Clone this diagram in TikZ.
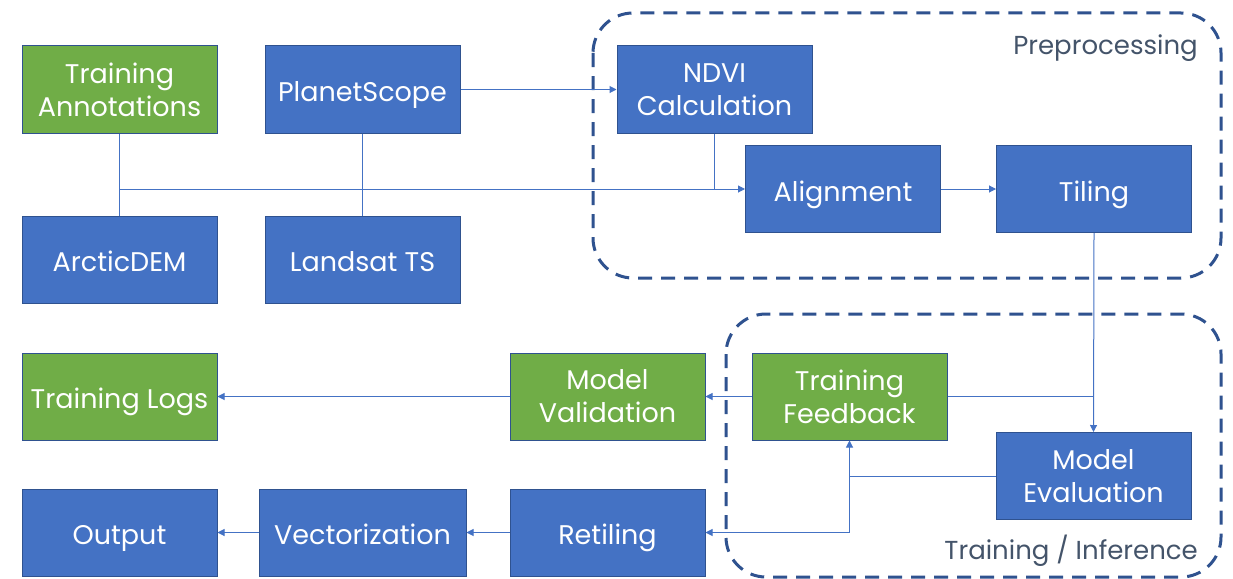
\documentclass[tikz,border=0pt]{standalone}
\usepackage{fontspec}
\setmainfont{Poppins}
\usetikzlibrary{arrows.meta,positioning}
\definecolor{boxblue}{HTML}{4472C4}
\definecolor{boxgreen}{HTML}{70AD47}
\definecolor{boxedge}{HTML}{2F528F}
\definecolor{groupedge}{HTML}{2F528F}
\definecolor{grouptext}{HTML}{44546A}
\tikzset{
  x=1pt, y=-1pt,
  procbox/.style={draw=boxedge, line width=1pt, text=white, align=center,
    minimum width=195pt, minimum height=87pt, inner sep=0pt,
    font=\fontsize{27}{33}\selectfont},
  bluebox/.style={procbox, fill=boxblue},
  greenbox/.style={procbox, fill=boxgreen},
  oneline/.style={text height=24pt, text depth=0pt},
  link/.style={draw=boxblue, line width=1pt},
  flow/.style={link, -{Triangle[length=7pt,width=7pt]}},
  group/.style={draw=groupedge, line width=3pt, dash pattern=on 14pt off 9pt,
    rounded corners=40pt},
  grouplabel/.style={text=grouptext, font=\fontsize{26}{30}\selectfont,
    anchor=east, inner sep=0pt}
}
\begin{document}
\begin{tikzpicture}
\useasboundingbox (0,0) rectangle (1233,578);
\fill[white] (0,0) rectangle (1233,578);

% group frames
\draw[group] (593,13) rectangle (1221,278);
\draw[group] (726,314) rectangle (1221,577);
\node[grouplabel] (lblpre) at (1198,48) {Preprocessing};
\node[grouplabel] (lbltrain) at (1198,551) {Training / Inference};

% data sources
\node[greenbox] (annot) at (119.5,89.5) {Training\\Annotations};
\node[bluebox, oneline] (planet) at (362.5,89.5) {PlanetScope};
\node[bluebox, oneline] (dem) at (119.5,259.5) {ArcticDEM};
\node[bluebox, oneline] (landsat) at (362.5,259.5) {Landsat TS};

% preprocessing
\node[bluebox] (ndvi) at (714.5,89.5) {NDVI\\Calculation};
\node[bluebox, oneline] (align) at (843,189) {Alignment};
\node[bluebox, oneline] (tiling) at (1094,189) {Tiling};

% training / inference
\node[greenbox] (feedback) at (849.5,396.5) {Training\\Feedback};
\node[bluebox] (evalm) at (1093.5,476) {Model\\Evaluation};

% outputs
\node[greenbox, oneline] (logs) at (119.5,396.5) {Training Logs};
\node[greenbox] (valid) at (607.5,396.5) {Model\\Validation};
\node[bluebox, oneline] (output) at (119.5,532.5) {Output};
\node[bluebox, oneline, minimum width=207pt] (vector) at (362.5,532.5) {Vectorization};
\node[bluebox, oneline] (retile) at (607.5,532.5) {Retiling};

% junction points
\coordinate (jann) at (annot.south |- align.west);
\coordinate (jndvi) at (ndvi.south |- align.west);
\coordinate (jfb) at (tiling.south |- feedback.east);
\coordinate (jev) at (feedback.south |- evalm.west);
\coordinate (jret) at (feedback.south |- retile.east);

% source merges
\draw[link] (annot.south) -- (dem.north);
\draw[link] (planet.south) -- (landsat.north);
\draw[flow] (jann) -- (align.west);
\draw[link] (ndvi.south) -- (jndvi);
\draw[flow] (planet.east) -- (ndvi.west);
\draw[flow] (align.east) -- (tiling.west);

% training loop
\draw[flow] (tiling.south) -- (evalm.north);
\draw[link] (feedback.east) -- (jfb);
\draw[flow] (evalm.west) -- (jev) -- (feedback.south);
\draw[flow] (jev) -- (jret) -- (retile.east);
\draw[flow] (feedback.west) -- (valid.east);
\draw[flow] (valid.west) -- (logs.east);
\draw[flow] (retile.west) -- (vector.east);
\draw[flow] (vector.west) -- (output.east);
\end{tikzpicture}
\end{document}
